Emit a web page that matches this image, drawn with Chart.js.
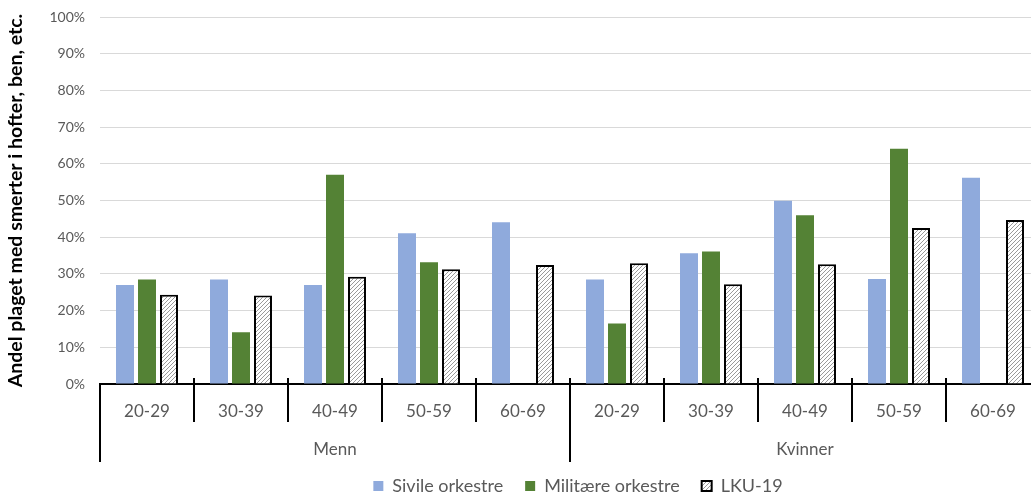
<!DOCTYPE html>
<html>
<head>
<meta charset="utf-8">
<script src="https://cdn.jsdelivr.net/npm/chart.js@4/dist/chart.umd.min.js"></script>
<style>
  html, body { margin: 0; padding: 0; background: #fff; overflow: hidden; width: 1031px; height: 500px; }
  #wrap { position: relative; width: 1156px; height: 505px; }
</style>
</head>
<body>
<div id="wrap"><canvas id="c" width="1156" height="505"></canvas></div>
<script>
// Age bands within each sex group
const ageGroups = ['20-29', '30-39', '40-49', '50-59', '60-69', '20-29', '30-39', '40-49', '50-59', '60-69'];
// Outer grouping along the x axis
const sexGroups = ['Menn', 'Kvinner'];
// Share (%) reporting pain in hips, legs etc.
const sivile    = [27.0, 28.5, 27.0, 41.1, 44.1, 28.5, 35.6, 49.9, 28.6, 56.2];
const militaere = [28.5, 14.1, 57.0, 33.2, null, 16.5, 36.1, 46.0, 64.1, null];
const lku19     = [24.3, 24.1, 29.2, 31.3, 32.4, 32.9, 27.2, 32.6, 42.5, 44.7];
const seriesNames = ['Sivile orkestre', 'Militære orkestre', 'LKU-19'];

const FONT = 'Lato, "Open Sans", sans-serif';
const TEXT = '#595959';

// Diagonal hatch fill for the LKU-19 bars
function makeHatch() {
  const t = document.createElement('canvas');
  t.width = 4; t.height = 4;
  const g = t.getContext('2d');
  g.fillStyle = '#ffffff';
  g.fillRect(0, 0, 4, 4);
  g.strokeStyle = '#9a9a9a';
  g.lineWidth = 1;
  g.beginPath();
  g.moveTo(-1, 5); g.lineTo(5, -1);
  g.stroke();
  return g.createPattern(t, 'repeat');
}
const ctx = document.getElementById('c').getContext('2d');
const hatch = makeHatch();

// Short tick marks poking up above the category axis at each boundary
const axisTicksAbove = {
  id: 'axisTicksAbove',
  afterDraw(chart) {
    const xs = chart.scales.x;
    const c = chart.ctx;
    const n = xs.ticks.length;
    const y = xs.top;
    c.save();
    c.strokeStyle = '#000';
    c.lineWidth = 2;
    for (let i = 1; i < n; i++) {
      const px = Math.round((xs.getPixelForTick(i - 1) + xs.getPixelForTick(i)) / 2);
      c.beginPath();
      c.moveTo(px, y - 6);
      c.lineTo(px, y);
      c.stroke();
    }
    c.restore();
  }
};

new Chart(ctx, {
  type: 'bar',
  data: {
    labels: ageGroups,
    datasets: [
      { label: seriesNames[0], data: sivile, backgroundColor: '#8faadc', borderWidth: 0 },
      { label: seriesNames[1], data: militaere, backgroundColor: '#548235', borderWidth: 0 },
      { label: seriesNames[2], data: lku19, backgroundColor: hatch, borderColor: '#000', borderWidth: 2 }
    ]
  },
  options: {
    responsive: false,
    animation: false,
    devicePixelRatio: 1,
    layout: { padding: { top: 17, right: 0, bottom: 0, left: 0 } },
    datasets: { bar: { categoryPercentage: 0.702, barPercentage: 0.818 } },
    plugins: {
      tooltip: { enabled: false },
      legend: {
        position: 'bottom',
        labels: {
          font: { family: FONT, size: 18 },
          color: TEXT,
          boxWidth: 10,
          boxHeight: 10,
          padding: 22
        }
      }
    },
    scales: {
      y: {
        min: 0, max: 100,
        ticks: {
          stepSize: 10,
          padding: 15,
          color: TEXT,
          font: { family: FONT, size: 14 },
          callback: v => v + '%'
        },
        grid: { color: '#d9d9d9', lineWidth: 1, drawTicks: false },
        border: { display: false },
        title: {
          display: true,
          text: 'Andel plaget med smerter i hofter, ben, etc.',
          color: '#000',
          font: { family: FONT, size: 19.5, weight: 'bold' },
          padding: { top: 4, bottom: 0 }
        },
        afterFit(s) { s.width = 100; s.paddingTop = 0; s.paddingBottom = 0; }
      },
      // empty right-hand gutter so the plot stops short of the canvas edge
      gutter: {
        type: 'linear',
        position: 'right',
        display: true,
        ticks: { display: false },
        grid: { display: false },
        border: { display: false },
        afterFit(s) { s.width = 116; s.paddingTop = 0; s.paddingBottom = 0; }
      },
      x: {
        type: 'category',
        offset: true,
        ticks: {
          color: TEXT,
          font: { family: FONT, size: 17 },
          padding: -21,
          maxRotation: 0, autoSkip: false
        },
        grid: { offset: true, drawOnChartArea: false, tickLength: 38, color: '#000', lineWidth: 2 },
        border: { display: true, color: '#000', width: 2 },
        afterFit(s) { s.height = 38; }
      },
      x2: {
        type: 'category',
        position: 'bottom',
        labels: sexGroups,
        offset: true,
        ticks: {
          color: TEXT,
          font: { family: FONT, size: 17 },
          padding: -23,
          maxRotation: 0, autoSkip: false
        },
        grid: { offset: true, drawOnChartArea: false, tickLength: 40, color: '#000', lineWidth: 2 },
        border: { display: false },
        afterFit(s) { s.height = 33; }
      }
    }
  },
  plugins: [axisTicksAbove]
});
</script>
</body>
</html>
